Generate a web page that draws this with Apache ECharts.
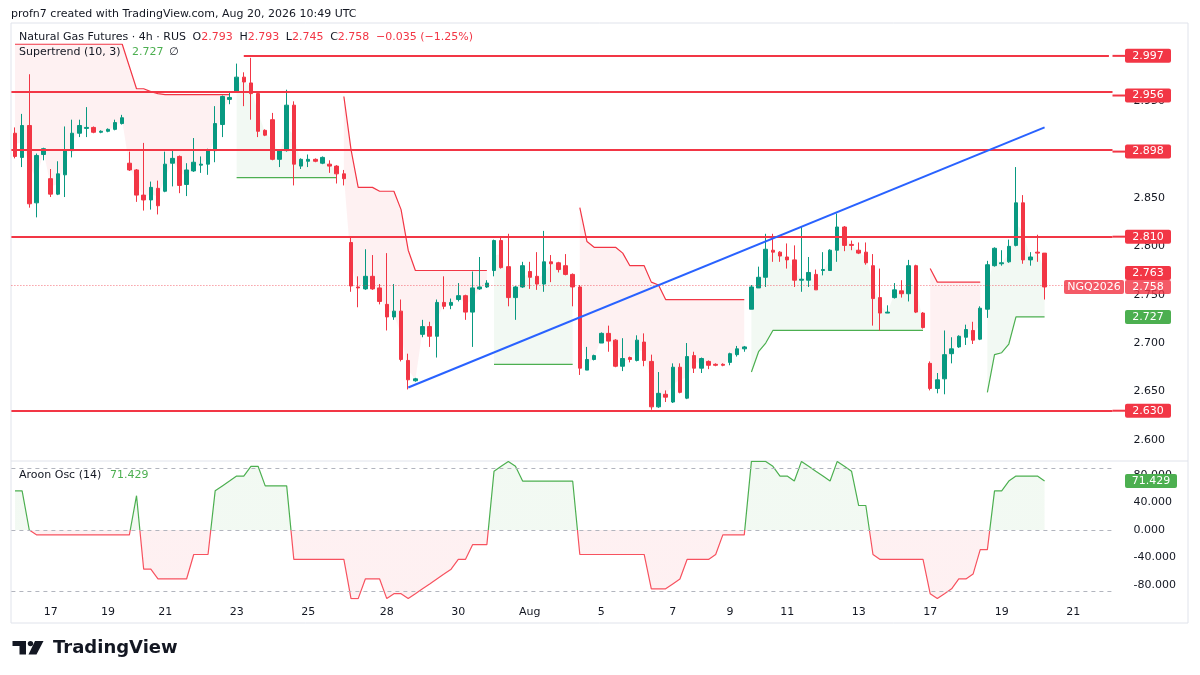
<!DOCTYPE html>
<html>
<head>
<meta charset="UTF-8">
<script src="https://cdn.jsdelivr.net/npm/echarts@6.0.0/dist/echarts.min.js"></script>
<style>
  html, body { margin: 0; padding: 0; background: #fff; }
  #chart { width: 1200px; height: 675px; }
</style>
</head>
<body>
<div id="chart"></div>
<script>
var _ = null;

// 4h candles
var openP = [
  2.917, 2.892, 2.925, 2.845, 2.895, 2.870, 2.854, 2.874, 2.899, 2.917,
  2.922, 2.923, 2.918, 2.919, 2.921, 2.927, 2.886, 2.879, 2.853, 2.848,
  2.860, 2.857, 2.886, 2.893, 2.864, 2.878, 2.884, 2.885, 2.899, 2.926,
  2.952, 2.960, 2.975, 2.969, 2.958, 2.920, 2.931, 2.890, 2.899, 2.946,
  2.883, 2.888, 2.890, 2.886, 2.885, 2.883, 2.875, 2.804, 2.758, 2.756,
  2.769, 2.757, 2.740, 2.727, 2.733, 2.682, 2.661, 2.709, 2.717, 2.707,
  2.742, 2.739, 2.745, 2.749, 2.732, 2.756, 2.758, 2.775, 2.806, 2.779,
  2.747, 2.758, 2.774, 2.769, 2.761, 2.784, 2.783, 2.780, 2.771, 2.758,
  2.672, 2.683, 2.700, 2.710, 2.703, 2.676, 2.685, 2.682, 2.701, 2.681,
  2.634, 2.647, 2.639, 2.675, 2.643, 2.687, 2.674, 2.681, 2.678, 2.678,
  2.680, 2.688, 2.694, 2.735, 2.757, 2.768, 2.796, 2.794, 2.789, 2.786,
  2.765, 2.765, 2.771, 2.775, 2.775, 2.796, 2.820, 2.802, 2.796, 2.794,
  2.780, 2.747, 2.731, 2.747, 2.754, 2.751, 2.780, 2.731, 2.679, 2.653,
  2.663, 2.689, 2.696, 2.706, 2.713, 2.704, 2.735, 2.780, 2.782, 2.784,
  2.801, 2.845, 2.786, 2.794, 2.793
];
var highP = [
  2.923, 2.937, 2.978, 2.896, 2.902, 2.880, 2.888, 2.924, 2.931, 2.931,
  2.944, 2.924, 2.920, 2.922, 2.931, 2.936, 2.898, 2.880, 2.907, 2.867,
  2.868, 2.898, 2.900, 2.894, 2.886, 2.912, 2.893, 2.901, 2.945, 2.956,
  2.959, 2.989, 2.980, 2.995, 2.959, 2.921, 2.938, 2.899, 2.962, 2.950,
  2.891, 2.895, 2.891, 2.893, 2.889, 2.884, 2.879, 2.809, 2.769, 2.797,
  2.791, 2.761, 2.793, 2.761, 2.745, 2.689, 2.664, 2.724, 2.722, 2.745,
  2.769, 2.746, 2.762, 2.750, 2.774, 2.789, 2.765, 2.807, 2.809, 2.813,
  2.759, 2.784, 2.784, 2.794, 2.816, 2.791, 2.784, 2.792, 2.772, 2.760,
  2.696, 2.688, 2.711, 2.718, 2.704, 2.705, 2.686, 2.708, 2.710, 2.688,
  2.670, 2.651, 2.679, 2.679, 2.700, 2.691, 2.685, 2.682, 2.679, 2.679,
  2.690, 2.697, 2.697, 2.760, 2.779, 2.813, 2.813, 2.795, 2.803, 2.801,
  2.820, 2.789, 2.776, 2.794, 2.797, 2.834, 2.821, 2.806, 2.804, 2.804,
  2.792, 2.777, 2.739, 2.762, 2.765, 2.786, 2.781, 2.732, 2.681, 2.669,
  2.713, 2.706, 2.708, 2.719, 2.722, 2.738, 2.785, 2.799, 2.796, 2.807,
  2.882, 2.853, 2.794, 2.812, 2.793
];
var lowP = [
  2.891, 2.882, 2.840, 2.830, 2.889, 2.851, 2.853, 2.851, 2.892, 2.913,
  2.913, 2.917, 2.917, 2.918, 2.920, 2.926, 2.878, 2.846, 2.837, 2.838,
  2.833, 2.856, 2.862, 2.855, 2.852, 2.877, 2.876, 2.874, 2.887, 2.913,
  2.947, 2.959, 2.945, 2.931, 2.913, 2.914, 2.889, 2.882, 2.898, 2.863,
  2.880, 2.882, 2.887, 2.885, 2.876, 2.865, 2.863, 2.753, 2.737, 2.755,
  2.755, 2.740, 2.713, 2.724, 2.681, 2.652, 2.660, 2.706, 2.696, 2.685,
  2.735, 2.735, 2.743, 2.724, 2.696, 2.755, 2.757, 2.769, 2.777, 2.738,
  2.724, 2.757, 2.756, 2.755, 2.753, 2.763, 2.773, 2.770, 2.738, 2.667,
  2.672, 2.682, 2.700, 2.691, 2.675, 2.671, 2.680, 2.681, 2.676, 2.631,
  2.633, 2.639, 2.638, 2.648, 2.642, 2.669, 2.669, 2.673, 2.676, 2.676,
  2.677, 2.686, 2.691, 2.735, 2.757, 2.758, 2.784, 2.784, 2.777, 2.758,
  2.753, 2.758, 2.755, 2.770, 2.775, 2.784, 2.795, 2.796, 2.792, 2.781,
  2.718, 2.713, 2.731, 2.746, 2.747, 2.743, 2.731, 2.715, 2.651, 2.648,
  2.647, 2.679, 2.695, 2.698, 2.699, 2.703, 2.726, 2.779, 2.780, 2.783,
  2.800, 2.782, 2.780, 2.784, 2.745
];
var closeP = [
  2.893, 2.925, 2.844, 2.894, 2.901, 2.854, 2.875, 2.899, 2.917, 2.925,
  2.923, 2.918, 2.919, 2.921, 2.928, 2.933, 2.879, 2.853, 2.848, 2.861,
  2.842, 2.885, 2.891, 2.863, 2.879, 2.887, 2.885, 2.900, 2.927, 2.955,
  2.954, 2.975, 2.970, 2.958, 2.919, 2.915, 2.890, 2.899, 2.946, 2.885,
  2.890, 2.890, 2.888, 2.892, 2.883, 2.875, 2.870, 2.759, 2.757, 2.769,
  2.756, 2.743, 2.727, 2.733, 2.683, 2.662, 2.663, 2.717, 2.707, 2.742,
  2.738, 2.742, 2.749, 2.732, 2.757, 2.758, 2.762, 2.806, 2.778, 2.747,
  2.758, 2.780, 2.768, 2.761, 2.784, 2.782, 2.776, 2.771, 2.758, 2.674,
  2.683, 2.687, 2.710, 2.702, 2.676, 2.684, 2.683, 2.703, 2.682, 2.634,
  2.648, 2.644, 2.675, 2.649, 2.686, 2.674, 2.684, 2.677, 2.677, 2.677,
  2.689, 2.694, 2.696, 2.758, 2.768, 2.797, 2.794, 2.790, 2.786, 2.765,
  2.766, 2.773, 2.755, 2.776, 2.796, 2.820, 2.801, 2.801, 2.793, 2.783,
  2.746, 2.731, 2.732, 2.755, 2.751, 2.780, 2.732, 2.716, 2.653, 2.662,
  2.688, 2.694, 2.707, 2.714, 2.703, 2.736, 2.781, 2.798, 2.783, 2.800,
  2.845, 2.786, 2.789, 2.793, 2.758
];

// Supertrend (10, 3): red = down trend, green = up trend
var stDown = [
  3.009, 3.009, 3.009, 3.009, 3.009, 3.009, 3.009, 3.009, 3.009, 3.009,
  3.009, 3.009, 3.009, 3.009, 3.009, 3.009, 2.986, 2.963, 2.963, 2.960,
  2.958, 2.957, 2.957, 2.957, 2.957, 2.957, 2.957, 2.957, 2.957, 2.957,
  2.957, _, _, _, _, _, _, _, _, _,
  _, _, _, _, _, _, 2.955, 2.900, 2.861, 2.861,
  2.861, 2.857, 2.857, 2.857, 2.838, 2.796, 2.775, 2.775, 2.775, 2.775,
  2.775, 2.775, 2.775, 2.775, 2.775, 2.775, 2.775, _, _, _,
  _, _, _, _, _, _, _, _, _, 2.840,
  2.805, 2.799, 2.799, 2.799, 2.799, 2.793, 2.780, 2.780, 2.780, 2.763,
  2.760, 2.745, 2.745, 2.745, 2.745, 2.745, 2.745, 2.745, 2.745, 2.745,
  2.745, 2.745, 2.745, _, _, _, _, _, _, _,
  _, _, _, _, _, _, _, _, _, _,
  _, _, _, _, _, _, _, _, 2.777, 2.763,
  2.763, 2.763, 2.763, 2.763, 2.763, 2.763, _, _, _, _,
  _, _, _, _, _
];
var stUp = [
  _, _, _, _, _, _, _, _, _, _,
  _, _, _, _, _, _, _, _, _, _,
  _, _, _, _, _, _, _, _, _, _,
  _, 2.871, 2.871, 2.871, 2.871, 2.871, 2.871, 2.871, 2.871, 2.871,
  2.871, 2.871, 2.871, 2.871, 2.871, 2.871, _, _, _, _,
  _, _, _, _, _, _, _, _, _, _,
  _, _, _, _, _, _, _, 2.678, 2.678, 2.678,
  2.678, 2.678, 2.678, 2.678, 2.678, 2.678, 2.678, 2.678, 2.678, _,
  _, _, _, _, _, _, _, _, _, _,
  _, _, _, _, _, _, _, _, _, _,
  _, _, _, 2.670, 2.691, 2.700, 2.713, 2.713, 2.713, 2.713,
  2.713, 2.713, 2.713, 2.713, 2.713, 2.713, 2.713, 2.713, 2.713, 2.713,
  2.713, 2.713, 2.713, 2.713, 2.713, 2.713, 2.713, 2.713, _, _,
  _, _, _, _, _, _, 2.649, 2.688, 2.690, 2.699,
  2.727, 2.727, 2.727, 2.727, 2.727
];

// Aroon Osc (14)
var aroonOsc = [
  57.1, 57.1, 0, -7.1, -7.1, -7.1, -7.1, -7.1, -7.1, -7.1,
  -7.1, -7.1, -7.1, -7.1, -7.1, -7.1, -7.1, 50.0, -57.1, -57.1,
  -71.4, -71.4, -71.4, -71.4, -71.4, -35.7, -35.7, -35.7, 57.1, 64.3,
  71.4, 78.6, 78.6, 92.9, 92.9, 64.3, 64.3, 64.3, 64.3, -42.9,
  -42.9, -42.9, -42.9, -42.9, -42.9, -42.9, -42.9, -100, -100, -71.4,
  -71.4, -71.4, -100, -92.9, -92.9, -100, -92.9, -85.7, -78.6, -71.4,
  -64.3, -57.1, -42.9, -42.9, -21.4, -21.4, -21.4, 85.7, 92.9, 100,
  92.9, 71.4, 71.4, 71.4, 71.4, 71.4, 71.4, 71.4, 71.4, -35.7,
  -35.7, -35.7, -35.7, -35.7, -35.7, -35.7, -35.7, -35.7, -35.7, -85.7,
  -85.7, -85.7, -78.6, -71.4, -42.9, -42.9, -42.9, -42.9, -35.7, -7.1,
  -7.1, -7.1, -7.1, 100, 100, 100, 92.9, 78.6, 78.6, 71.4,
  100, 92.9, 85.7, 78.6, 71.4, 100, 92.9, 85.7, 35.7, 35.7,
  -35.7, -42.9, -42.9, -42.9, -42.9, -42.9, -42.9, -42.9, -92.9, -100,
  -92.9, -85.7, -71.4, -71.4, -64.3, -28.6, -28.6, 57.1, 57.1, 71.4,
  78.6, 78.6, 78.6, 78.6, 71.429
];

// drawn levels and trend line
var levels = [2.956, 2.898, 2.810, 2.630];
var topLevel = { value: 2.997, fromIndex: 32 };
var trendLine = { from: [55, 2.654], to: [144, 2.923] };
var lastPrice = 2.758;
var superLast = 2.727;
var superDownLast = 2.763;

// axes
var priceTicks = [2.600, 2.650, 2.700, 2.750, 2.800, 2.850, 2.900, 2.950];
var oscTicks = [80, 40, 0, -40, -80];
var dateTickIdx = [5, 13, 21, 31, 41, 52, 62, 72, 82, 92, 100, 108, 118, 128, 138, 148];
var dateTickText = ['17', '19', '21', '23', '25', '28', '30', 'Aug', '5', '7', '9', '11', '13', '17', '19', '21'];

var SLOTS = 154;
var PLOT_L = 11.4, PLOT_R = 1112.5;
var FONT = '"DejaVu Sans", sans-serif';
var UP = '#089981', DOWN = '#f23645';
var TXT = '#131722';

var cats = [];
for (var i = 0; i < SLOTS; i++) cats.push(String(i));
var dateLabel = {};
dateTickIdx.forEach(function (k, j) { dateLabel[k] = dateTickText[j]; });

var candles = openP.map(function (o, i) { return [o, closeP[i], lowP[i], highP[i]]; });
var mid = openP.map(function (o, i) { return (o + closeP[i]) / 2; });
var redBase = stDown.map(function (v, i) { return v == null ? null : mid[i]; });
var redBand = stDown.map(function (v, i) { return v == null ? null : v - mid[i]; });
var greenBase = stUp.slice();
var greenBand = stUp.map(function (v, i) { return v == null ? null : mid[i] - v; });

var chart = echarts.init(document.getElementById('chart'));

var hidden = { show: false };
var solidRed = { color: DOWN, width: 2, type: 'solid' };
var option = {
    animation: false,
    backgroundColor: '#ffffff',
    grid: [
        { left: PLOT_L, right: 1200 - PLOT_R, top: 23, height: 438 },
        { left: PLOT_L, right: 1200 - PLOT_R, top: 461, height: 138 }
    ],
    xAxis: [
        { type: 'category', gridIndex: 0, data: cats, boundaryGap: true,
          axisLine: hidden, axisTick: hidden, axisLabel: hidden, splitLine: hidden },
        { type: 'category', gridIndex: 1, data: cats, boundaryGap: true,
          axisLine: hidden, axisTick: hidden, splitLine: hidden,
          axisLabel: {
              interval: 0, margin: 8, color: TXT, fontSize: 11, fontFamily: FONT,
              formatter: function (v, idx) { return dateLabel[idx] || ''; }
          } }
    ],
    yAxis: [
        { type: 'value', gridIndex: 0, position: 'right', min: 2.578, max: 3.031,
          axisLine: hidden, axisTick: hidden, splitLine: hidden,
          axisLabel: { customValues: priceTicks, margin: 21, color: TXT, fontSize: 11, fontFamily: FONT,
                       formatter: function (v) { return v.toFixed(3); } } },
        { type: 'value', gridIndex: 1, position: 'right', min: -100.6, max: 100.6,
          axisLine: hidden, axisTick: hidden, splitLine: hidden,
          axisLabel: { customValues: oscTicks, margin: 21, color: TXT, fontSize: 11, fontFamily: FONT,
                       formatter: function (v) { return v.toFixed(3); } } }
    ],
    series: [
        { type: 'line', data: redBase, stack: 'dn', stackStrategy: 'all', symbol: 'none',
          lineStyle: { opacity: 0 }, silent: true, z: 1 },
        { type: 'line', data: redBand, stack: 'dn', stackStrategy: 'all', symbol: 'none',
          lineStyle: { opacity: 0 }, areaStyle: { color: 'rgba(242,54,69,0.1)' }, silent: true, z: 1 },
        { type: 'line', data: greenBase, stack: 'up', stackStrategy: 'all', symbol: 'none',
          lineStyle: { opacity: 0 }, silent: true, z: 1 },
        { type: 'line', data: greenBand, stack: 'up', stackStrategy: 'all', symbol: 'none',
          lineStyle: { opacity: 0 }, areaStyle: { color: 'rgba(76,175,80,0.1)' }, silent: true, z: 1 },
        {
            type: 'candlestick', data: candles, barWidth: 4, z: 4,
            itemStyle: { color: UP, color0: DOWN, borderColor: UP, borderColor0: DOWN, borderWidth: 1 },
            markLine: {
                silent: true, symbol: ['none', 'none'], animation: false,
                label: { show: false },
                lineStyle: solidRed,
                data: [
                    [{ xAxis: String(topLevel.fromIndex), yAxis: topLevel.value, lineStyle: solidRed },
                     { xAxis: String(SLOTS - 1), yAxis: topLevel.value, lineStyle: solidRed }]
                ].concat(levels.map(function (v) {
                    return { yAxis: v, lineStyle: solidRed };
                })).concat([
                    { yAxis: lastPrice, lineStyle: { color: 'rgba(242,54,69,0.7)', width: 1, type: [1, 2] } },
                    [{ coord: [String(trendLine.from[0]), trendLine.from[1]], lineStyle: { color: '#2962ff', width: 2, type: 'solid' } },
                     { coord: [String(trendLine.to[0]), trendLine.to[1]], lineStyle: { color: '#2962ff', width: 2, type: 'solid' } }]
                ])
            }
        },
        { type: 'line', data: stDown, symbol: 'none', connectNulls: false, z: 3,
          lineStyle: { color: '#f23645', width: 1.2 }, itemStyle: { color: '#f23645' } },
        { type: 'line', data: stUp, symbol: 'none', connectNulls: false, z: 3,
          lineStyle: { color: '#4caf50', width: 1.2 }, itemStyle: { color: '#4caf50' } },
        {
            type: 'line', xAxisIndex: 1, yAxisIndex: 1, data: aroonOsc, symbol: 'none',
            lineStyle: { width: 1.2, color: '#4caf50' }, areaStyle: { color: 'rgba(76,175,80,0.1)', origin: 'auto' }, z: 3,
            markLine: {
                silent: true, symbol: ['none', 'none'], label: { show: false },
                lineStyle: { color: '#b2b5be', width: 1, type: [4, 4] },
                data: [{ yAxis: 90 }, { yAxis: 0 }, { yAxis: -90 }]
            }
        }
    ]
};
chart.setOption(option);

// oscillator colour flips at zero: green above, red below
var oscTop = chart.convertToPixel({ yAxisIndex: 1 }, 100.6);
var oscBot = chart.convertToPixel({ yAxisIndex: 1 }, -100.6);
var oscZero = chart.convertToPixel({ yAxisIndex: 1 }, 0);
var f = (oscZero - oscTop) / (oscBot - oscTop);
function splitGrad(cUp, cDn) {
    return new echarts.graphic.LinearGradient(0, oscTop, 0, oscBot, [
        { offset: 0, color: cUp }, { offset: f, color: cUp },
        { offset: f, color: cDn }, { offset: 1, color: cDn }
    ], true);
}

// price tags on the right scale, placed through the axes
function tag(axis, value, text, bg, opts) {
    opts = opts || {};
    var y = chart.convertToPixel({ yAxisIndex: axis }, value) + (opts.dy || 0);
    var x = opts.x || 1125, w = opts.w || 46;
    var els = [];
    if (opts.line) {
        els.push({ type: 'line', z: 20, shape: { x1: PLOT_R, y1: y, x2: x, y2: y },
                   style: { stroke: bg, lineWidth: 2 } });
    }
    els.push({ type: 'rect', z: 20, shape: { x: x, y: y - 7, width: w, height: 14, r: 2 }, style: { fill: bg } });
    els.push({ type: 'text', z: 21, style: { text: text, x: x + w / 2, y: y, align: 'center', verticalAlign: 'middle',
               fill: '#ffffff', font: '11px ' + FONT } });
    return els;
}

var g = [];
g = g.concat(tag(0, topLevel.value, topLevel.value.toFixed(3), DOWN, { line: true }));
levels.forEach(function (v) { g = g.concat(tag(0, v, v.toFixed(3), DOWN, { line: true })); });
g = g.concat(tag(0, lastPrice, superDownLast.toFixed(3), DOWN, { dy: -14 }));
g = g.concat(tag(0, lastPrice, 'NGQ2026', 'rgba(242,54,69,0.82)', { x: 1064, w: 60 }));
g = g.concat(tag(0, lastPrice, lastPrice.toFixed(3), 'rgba(242,54,69,0.82)'));
g = g.concat(tag(0, superLast, superLast.toFixed(3), '#4caf50'));
g = g.concat(tag(1, aroonOsc[aroonOsc.length - 1], aroonOsc[aroonOsc.length - 1].toFixed(3), '#4caf50', { w: 52 }));

// frame and pane separator
var frame = '#e0e3eb';
g.push({ type: 'line', z: 0, shape: { x1: 11, y1: 23, x2: 1188, y2: 23 }, style: { stroke: frame, lineWidth: 1 } });
g.push({ type: 'line', z: 0, shape: { x1: 11, y1: 623, x2: 1188, y2: 623 }, style: { stroke: frame, lineWidth: 1 } });
g.push({ type: 'line', z: 0, shape: { x1: 11, y1: 23, x2: 11, y2: 623 }, style: { stroke: frame, lineWidth: 1 } });
g.push({ type: 'line', z: 0, shape: { x1: 1188, y1: 23, x2: 1188, y2: 623 }, style: { stroke: frame, lineWidth: 1 } });
g.push({ type: 'line', z: 0, shape: { x1: 11, y1: 461, x2: 1188, y2: 461 }, style: { stroke: frame, lineWidth: 1 } });

// texts
function txt(s, x, y, color, size) {
    return { type: 'text', z: 30, style: { text: s, x: x, y: y, verticalAlign: 'middle',
             fill: color || TXT, font: (size || 11) + 'px ' + FONT } };
}
g.push(txt('profn7 created with TradingView.com, Aug 20, 2026 10:49 UTC', 11, 14));
g.push({ type: 'text', z: 30, style: {
    x: 19, y: 37, verticalAlign: 'middle',
    text: '{a|Natural Gas Futures · 4h · RUS}  {a|O}{r|2.793}  {a|H}{r|2.793}  {a|L}{r|2.745}  {a|C}{r|2.758}  {r|−0.035 (−1.25%)}',
    rich: { a: { fill: TXT, font: '11px ' + FONT }, r: { fill: DOWN, font: '11px ' + FONT } }
} });
g.push(txt('Supertrend (10, 3)', 19, 52));
g.push(txt(superLast.toFixed(3), 132, 52, '#4caf50'));
g.push(txt('∅', 169, 52));
g.push(txt('Aroon Osc (14)', 19, 475));
g.push(txt(aroonOsc[aroonOsc.length - 1].toFixed(3), 110, 475, '#4caf50'));

// TradingView logo
g.push({ type: 'rect', z: 30, shape: { x: 12.5, y: 641, width: 13.5, height: 5 }, style: { fill: TXT } });
g.push({ type: 'rect', z: 30, shape: { x: 19.5, y: 641, width: 6.5, height: 13.5 }, style: { fill: TXT } });
g.push({ type: 'circle', z: 30, shape: { cx: 30.5, cy: 643.6, r: 2.7 }, style: { fill: TXT } });
g.push({ type: 'polygon', z: 30, shape: { points: [[35, 641], [43.5, 641], [36.5, 654.5], [28.5, 654.5]] }, style: { fill: TXT } });
g.push({ type: 'text', z: 30, style: { text: 'TradingView', x: 53, y: 648, verticalAlign: 'middle',
         fill: TXT, font: 'bold 18px "DejaVu Sans", sans-serif' } });

chart.setOption({
    graphic: g,
    series: [{}, {}, {}, {}, {}, {}, {}, {
        lineStyle: { color: splitGrad('#4caf50', '#f7525f') },
        areaStyle: { color: splitGrad('rgba(76,175,80,0.1)', 'rgba(242,54,69,0.1)') }
    }]
});
</script>
</body>
</html>
